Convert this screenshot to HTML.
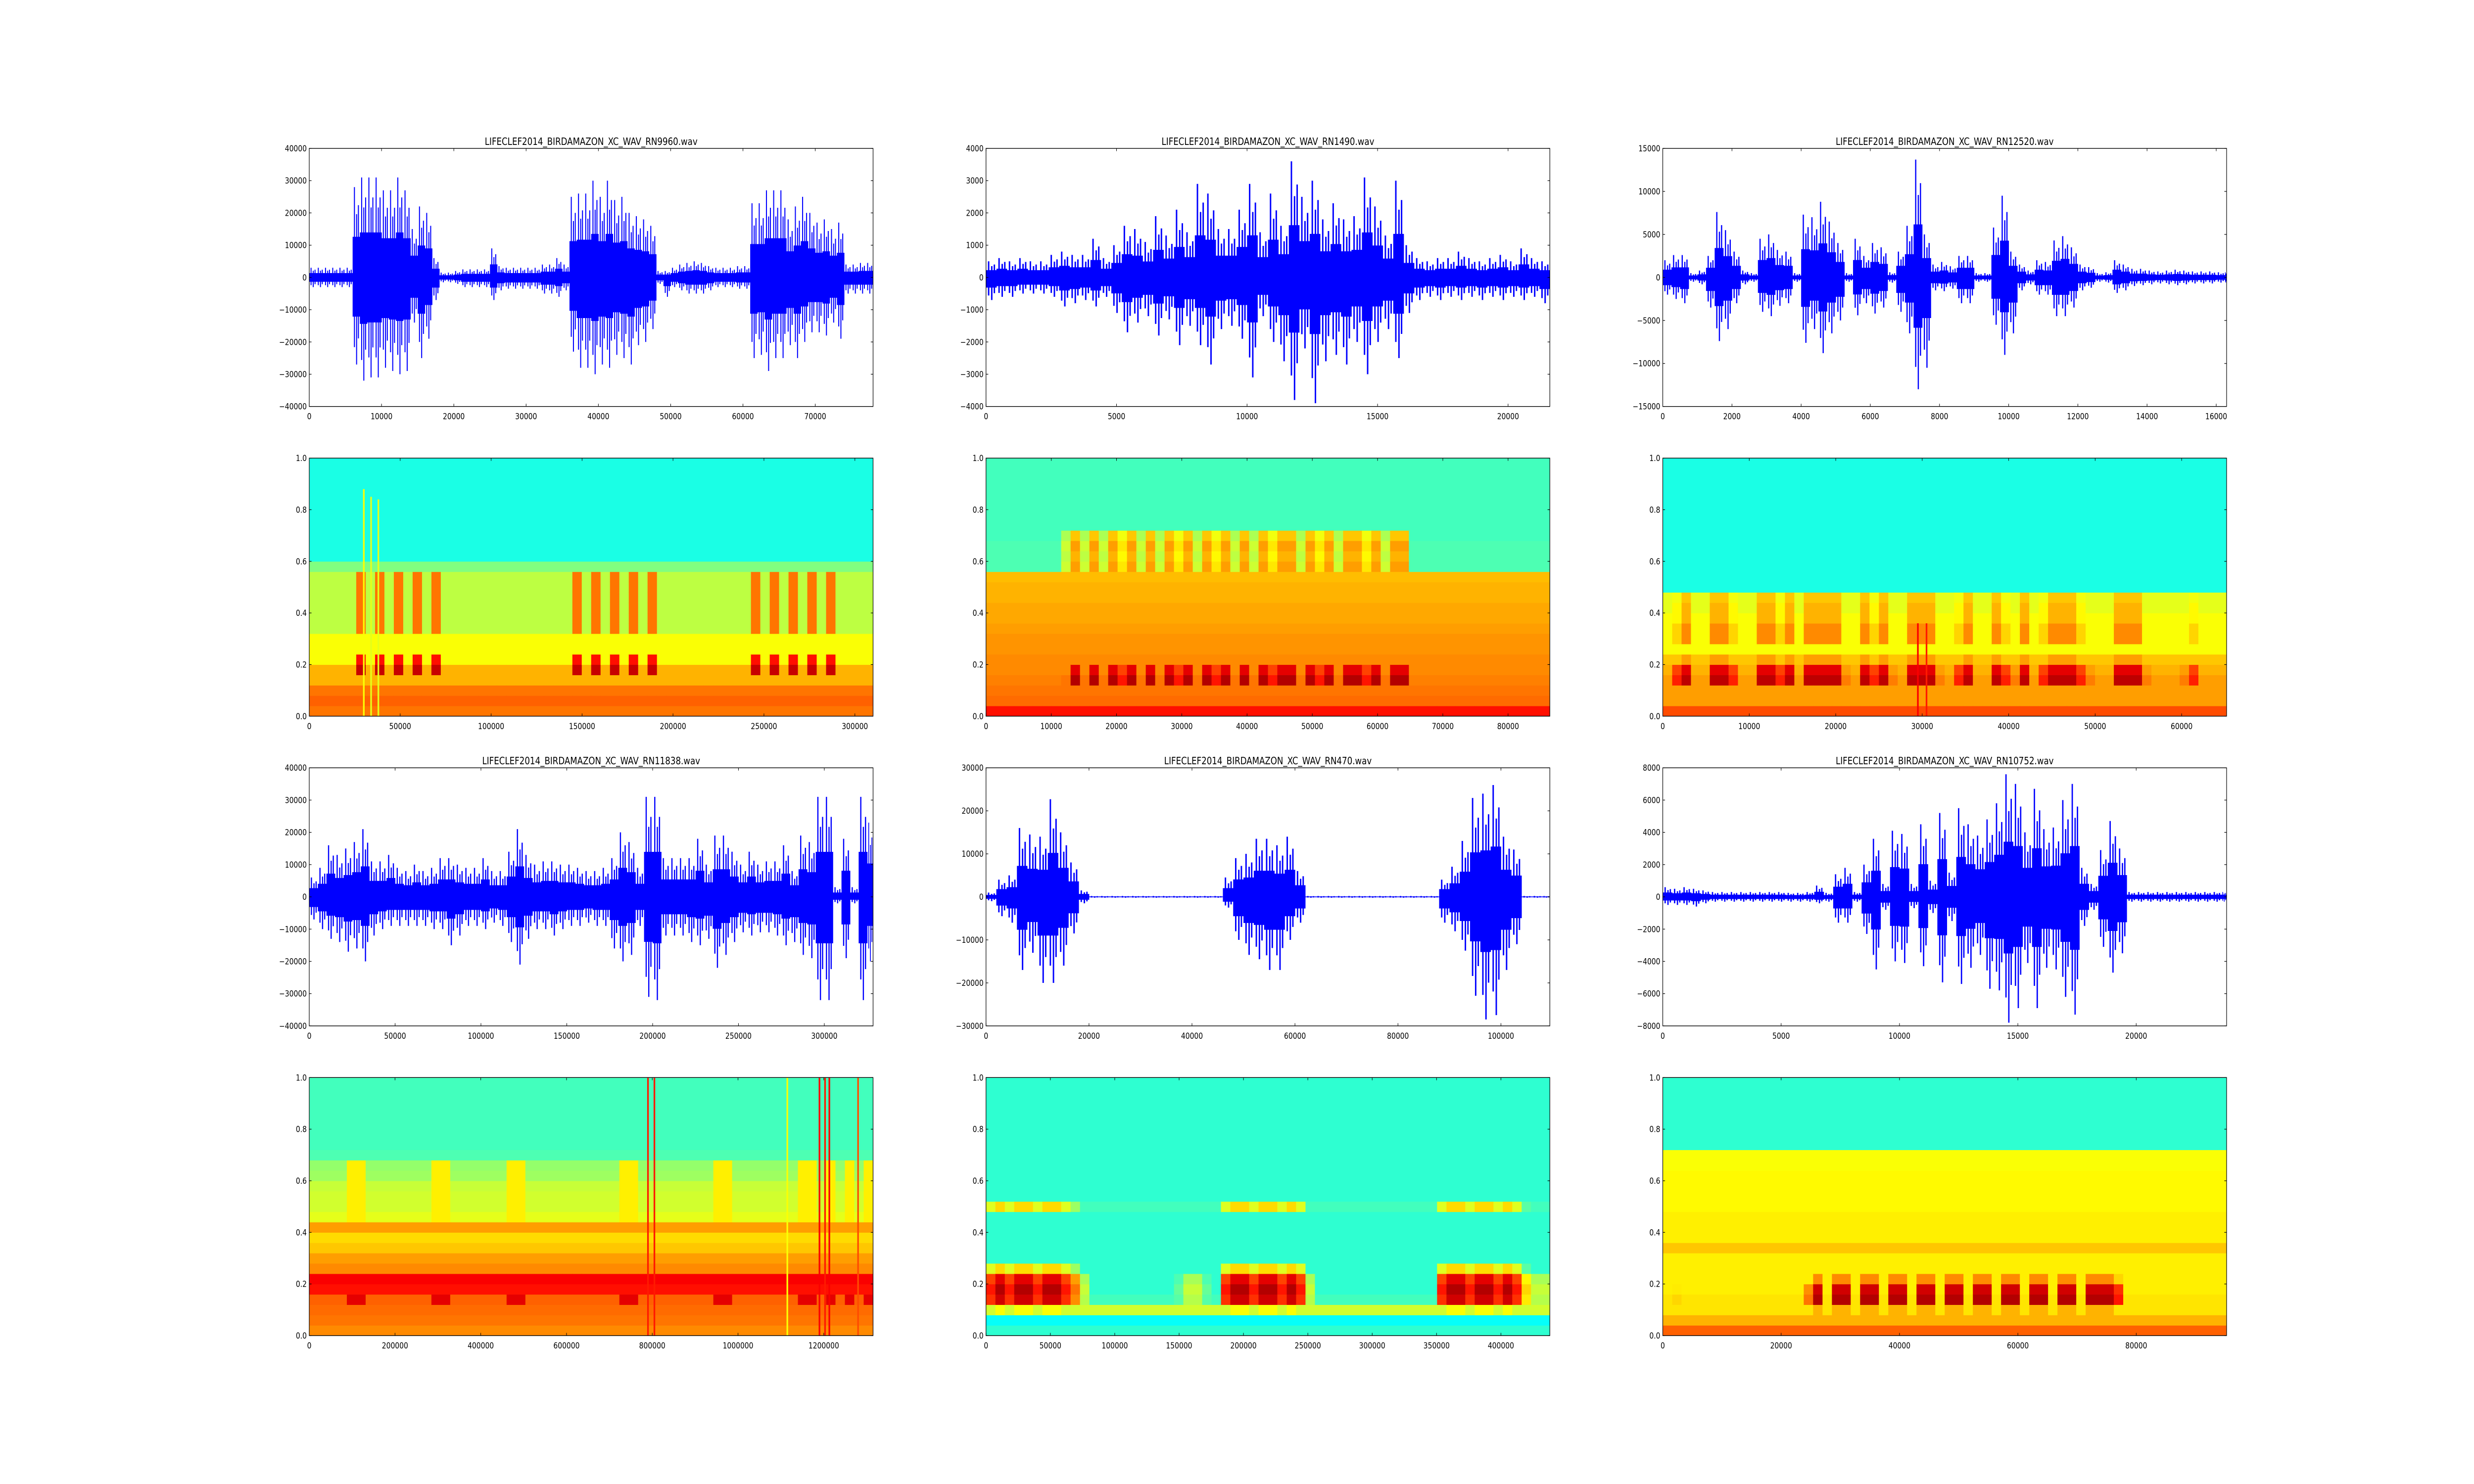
<!DOCTYPE html>
<html><head><meta charset="utf-8">
<style>
html,body{margin:0;padding:0;background:#fff;overflow:hidden;width:100vw;height:100vh;}
svg{display:block;position:absolute;left:0;top:0;width:100vw;height:100vh;}
text{font-family:"DejaVu Sans","Liberation Sans",sans-serif;font-size:16.7px;fill:#000;}
text.ttl{font-size:20px;}
</style></head>
<body>
<svg id="fig" xmlns="http://www.w3.org/2000/svg" viewBox="0 0 6000 3000" preserveAspectRatio="none">
<rect x="0" y="0" width="6000" height="3000" fill="#fff"/>
</svg>
<script>
// ---------- DATA ----------
const titles = ["LIFECLEF2014_BIRDAMAZON_XC_WAV_RN9960.wav","LIFECLEF2014_BIRDAMAZON_XC_WAV_RN1490.wav","LIFECLEF2014_BIRDAMAZON_XC_WAV_RN12520.wav","LIFECLEF2014_BIRDAMAZON_XC_WAV_RN11838.wav","LIFECLEF2014_BIRDAMAZON_XC_WAV_RN470.wav","LIFECLEF2014_BIRDAMAZON_XC_WAV_RN10752.wav"];
const waveXmax = [78000, 21600, 16300, 328400, 109500, 23820];
const waveYmax = [40000, 4000, 15000, 40000, 30000, 8000];
const waveYstep = [10000, 1000, 5000, 10000, 10000, 2000];
const waveXstep = [10000, 5000, 2000, 50000, 20000, 5000];
const waveBin = [1000, 400, 250, 5000, 2000, 400];

const wave1Pos = [3000,3000,3000,3000,3000,3000,28000,31000,31000,31000,27000,27000,31000,27000,15000,22000,20000,6000,1500,1500,2000,2500,2500,2500,2500,9000,3500,3000,3000,3000,3000,3000,4000,4000,6000,4000,25000,26000,26000,30000,25000,30000,24000,25000,20000,19000,18000,16000,2000,2000,3000,4000,4500,5000,4500,3500,3000,3000,3000,3500,3500,23000,23000,27000,27000,27000,18000,22000,25000,20000,17000,18000,15000,17000,4000,4000,4500,4500];
const wave1Neg = [-3000,-3000,-3000,-3000,-3000,-3000,-27000,-32000,-31000,-31000,-28000,-29000,-30000,-29000,-14000,-25000,-19000,-7000,-1500,-1500,-2000,-3000,-3000,-3000,-3000,-7000,-4000,-3500,-3500,-3500,-3500,-3500,-5000,-5000,-6000,-4000,-23000,-28000,-28000,-30000,-27000,-28000,-24000,-25000,-27000,-21000,-20000,-16000,-2000,-6000,-3000,-4000,-5000,-5000,-5000,-4000,-3000,-3000,-3000,-3500,-3500,-25000,-24000,-29000,-25000,-25000,-21000,-25000,-20000,-17000,-17000,-18000,-14000,-19000,-5000,-5000,-5000,-5000];
const wave2Pos = [500,600,500,600,500,500,700,800,700,700,1200,600,1000,1600,1500,1100,1900,1300,2100,1400,2900,2600,1500,1500,2100,2900,1400,2600,1600,3600,2500,3000,1800,2300,1800,1900,3100,2200,1300,3000,1000,600,500,600,600,800,600,500,600,700,500,900,600,500];
const wave2Neg = [-700,-600,-600,-500,-500,-500,-600,-900,-800,-700,-900,-600,-1100,-1700,-1400,-1200,-1800,-1300,-2100,-1500,-2100,-2700,-1600,-1500,-1900,-3100,-1200,-2000,-2600,-3800,-2200,-3900,-2600,-2400,-2700,-2000,-3000,-2000,-1600,-2500,-1100,-700,-600,-700,-600,-700,-600,-700,-600,-700,-600,-700,-600,-800];
const wave3Pos = [2000,2600,2600,500,800,2500,7600,5500,3000,800,500,4500,5000,3200,3000,500,7300,7000,8800,6500,4000,500,4500,2500,4000,3500,600,3000,6000,13700,5000,1500,1800,1300,2500,2500,500,500,5800,9500,3000,1500,800,2000,1800,4300,4800,3500,1500,1200,500,600,2000,1500,1000,1000,800,700,800,900,800,700,700,700,600,600];
const wave3Neg = [-2000,-2500,-3000,-500,-800,-3500,-7400,-6000,-3000,-800,-500,-4000,-4500,-3300,-3000,-500,-7600,-6000,-8800,-6500,-5000,-500,-4400,-3000,-4200,-3500,-600,-4000,-6500,-13000,-10500,-1500,-1600,-1300,-3000,-3000,-500,-500,-5500,-9000,-6500,-1500,-800,-2000,-2000,-4500,-4500,-3500,-1500,-1200,-500,-600,-1800,-1500,-1000,-900,-800,-700,-800,-900,-800,-700,-700,-700,-600,-600];
const wave4Pos = [6000,9000,16000,13000,15000,17000,21000,11000,11000,13000,9000,8000,10000,8000,9000,12000,12000,10000,9000,9000,12000,8000,8000,14000,21000,13000,10000,11000,11000,10000,10000,9000,8000,8000,9000,12000,20000,17000,9000,31000,31000,12000,12000,12000,12000,18000,10000,19000,19000,14000,10000,14000,10000,11000,11000,16000,8000,19000,17000,31000,31000,3000,18000,3000,31000,23000];
const wave4Neg = [-7000,-10000,-13000,-14000,-17000,-16000,-20000,-12000,-10000,-9000,-9000,-9000,-9000,-9000,-10000,-10000,-15000,-12000,-9000,-9000,-10000,-8000,-9000,-14000,-21000,-13000,-10000,-10000,-12000,-10000,-9000,-9000,-8000,-9000,-9000,-16000,-20000,-18000,-9000,-31000,-32000,-12000,-12000,-12000,-14000,-15000,-13000,-22000,-18000,-14000,-11000,-12000,-11000,-11000,-12000,-15000,-14000,-18000,-19000,-32000,-32000,-2000,-19000,-2000,-32000,-20000];
const wave5Pos = [1000,4000,5000,16000,14500,14000,22700,15000,8000,1500,200,200,200,200,200,200,200,200,200,200,200,200,200,4500,9000,10000,13500,13500,12000,14000,6000,200,200,200,200,200,200,200,200,200,200,200,200,200,4000,7000,13000,23000,24000,26000,14000,11000,200,200,200];
const wave5Neg = [-1000,-4500,-6000,-17000,-13000,-20000,-20000,-16000,-8500,-1500,-200,-200,-200,-200,-200,-200,-200,-200,-200,-200,-200,-200,-200,-2500,-10000,-13500,-14500,-17000,-17000,-10000,-6000,-200,-200,-200,-200,-200,-200,-200,-200,-200,-200,-200,-200,-200,-6000,-8000,-12500,-23000,-28500,-27500,-17000,-11000,-200,-200,-200];
const wave6Pos = [600,500,600,500,400,300,300,300,300,300,300,300,300,250,250,300,700,250,1400,1800,300,2000,3600,800,4100,3900,800,4500,1000,5200,1500,5500,4500,3800,4800,5800,7600,7000,4000,6700,4200,4300,6000,7000,1800,800,2900,4700,3000,300,300,300,300,300,300,300,300,300,300,300];
const wave6Neg = [-500,-500,-500,-600,-400,-300,-300,-300,-300,-300,-300,-300,-300,-300,-300,-300,-400,-300,-1600,-1600,-300,-2300,-4500,-800,-4000,-4100,-700,-4300,-1000,-5300,-1500,-5400,-4400,-3600,-5700,-5800,-7800,-6900,-4100,-6900,-4400,-4500,-6200,-7300,-1800,-800,-3100,-4700,-3500,-300,-300,-300,-300,-300,-300,-300,-300,-300,-300,-300];

const specXmax = [310000, 86400, 65200, 1315000, 438000, 95270];
const specXstep = [50000, 10000, 10000, 200000, 50000, 20000];

const spec1Profile = [0.76,0.78,0.76,0.7,0.7,0.62,0.62,0.62,0.56,0.56,0.56,0.56,0.56,0.56,0.5,0.4,0.4,0.4,0.4,0.4,0.4,0.4,0.4,0.4,0.4];
const spec1Call = [0,0,0,0,0.93,0.86,0,0,0.76,0.76,0.76,0.76,0.76,0.76,0,0,0,0,0,0,0,0,0,0,0];
const spec1Act = [0,0,0,0,0,1,0.6,1,0.6,1,0.6,1,0.7,1,0,0,0,0,0,0.6,0.7,0.6,0,0,0,0,0,0,1,0.6,1,0.6,1,0.6,1,0.6,1,0,0,0,0,0,0,0,0,0,0,1,0.6,1,0.6,1,0.6,1,0.6,1,0.7,0,0,0];
const spec1SpikeX = [30000, 34000, 38000];
const spec1SpikeTop = [0.88, 0.85, 0.84];
const spec1SpikeVal = [0.62, 0.6, 0.6];

const spec2Profile = [0.86,0.77,0.76,0.75,0.74,0.74,0.73,0.73,0.72,0.71,0.71,0.7,0.7,0.69,0.45,0.45,0.45,0.44,0.44,0.44,0.44,0.44,0.44,0.44,0.44];
const spec2Call = [0,0,0,0.95,0.9,0,0,0,0,0,0,0,0,0,0.72,0.7,0.72,0.68,0,0,0,0,0,0,0];
const spec2Act = [0,0,0,0.5,0,0.6,0.5,0,0.8,1,0.8,1,0.8,1,0.9,1,0.8,1,0.8,1,0.9,1,0.8,1,0.9,1,0.8,1,0.8,1,0.9,1,1,0.8,1,0.9,1,0.8,1,1,0.9,1,0.8,1,1,0.6,0.5,0.6,0.5,0.6,0.5,0.6,0.5,0.6,0.5,0.6,0.5,0.6,0.5,0];
const spec2SpikeX = [];
const spec2SpikeTop = [];
const spec2SpikeVal = [];

const spec3Profile = [0.8,0.72,0.72,0.72,0.7,0.68,0.62,0.62,0.62,0.62,0.6,0.6,0.4,0.4,0.4,0.4,0.4,0.4,0.4,0.4,0.4,0.4,0.4,0.4,0.4];
const spec3Call = [0,0,0.7,0.94,0.9,0.72,0,0.74,0.74,0.7,0.7,0.68,0,0,0,0,0,0,0,0,0,0,0,0,0];
const spec3Act = [0,0.9,1,0.7,0.5,1,1,0.9,0.6,0.5,1,1,0.9,1,0.5,1,1,1,1,0.8,0.5,1,0.9,1,0.8,0.5,1,1,1,0.8,0.6,0.9,1,0.7,0.4,1,0.9,0.8,1,0.6,0.9,1,1,1,0.9,0.8,0.5,0.4,1,1,1,0.8,0.7,0.4,0.4,0.8,0.9,0.7,0.4,0.4];
const spec3SpikeX = [29500, 30500];
const spec3SpikeTop = [0.36, 0.36];
const spec3SpikeVal = [0.88, 0.85];

const spec4Profile = [0.74,0.76,0.77,0.78,0.86,0.88,0.74,0.72,0.68,0.66,0.72,0.6,0.58,0.58,0.57,0.53,0.52,0.45,0.44,0.44,0.44,0.44,0.44,0.44,0.44];
const spec4Call = [0,0,0,0.9,0,0,0,0,0,0,0,0.64,0.64,0.64,0.64,0.64,0.64,0,0,0,0,0,0,0,0];
const spec4Act = [0,0,0,0,1,1,0,0,0,0,0,0,0,1,1,0,0,0,0,0,0,1,1,0,0,0,0,0,0,0,0,0,0,1,1,0,0,0,0,0,0,0,0,1,1,0,0,0,0,0,0,0,1,1,0,1,0.8,1,0.8,1];
const spec4SpikeX = [790000, 805000, 1115000, 1190000, 1203000, 1213000, 1280000];
const spec4SpikeTop = [1, 1, 1, 1, 1, 1, 1];
const spec4SpikeVal = [0.85, 0.85, 0.62, 0.88, 0.85, 0.88, 0.8];

const spec5Profile = [0.42,0.38,0.58,0.44,0.42,0.42,0.42,0.42,0.42,0.42,0.42,0.42,0.44,0.42,0.42,0.42,0.42,0.42,0.42,0.42,0.42,0.42,0.42,0.42,0.42];
const spec5Call = [0,0,0.62,0.92,0.95,0.9,0.66,0,0,0,0,0,0.66,0,0,0,0,0,0,0,0,0,0,0,0];
const spec5Act = [0.9,1,0.9,1,1,0.9,1,1,0.9,0.8,0.6,0.3,0.2,0,0,0,0,0,0,0,0.5,0.6,0.6,0.5,0.4,0.9,1,1,0.9,1,1,0.9,1,0.9,0.6,0.2,0.1,0,0,0,0,0,0,0,0,0,0,0.3,0.9,1,1,0.9,1,1,0.9,1,0.9,0.7,0.6,0.6];
const spec5SpikeX = [];
const spec5SpikeTop = [];
const spec5SpikeVal = [];

const spec6Profile = [0.78,0.7,0.65,0.65,0.64,0.64,0.64,0.64,0.68,0.64,0.64,0.64,0.63,0.63,0.63,0.63,0.62,0.62,0.42,0.42,0.42,0.42,0.42,0.42,0.42];
const spec6Call = [0,0,0.7,0.95,0.92,0.74,0,0,0,0,0,0,0,0,0,0,0,0,0,0,0,0,0,0,0];
const spec6Act = [0.6,0.7,0.6,0,0,0,0,0,0,0,0,0,0,0,0,0.8,1,0.5,1,1,0.6,1,1,0.6,1,1,0.6,1,1,0.6,1,1,0.6,1,1,0.6,1,1,0.6,1,1,0.6,1,1,0.6,1,1,1,0.9,0.5,0,0,0,0,0,0,0,0,0,0];
const spec6SpikeX = [];
const spec6SpikeTop = [];
const spec6SpikeVal = [];

// ---------- LAYOUT ----------
const NS = "http://www.w3.org/2000/svg";
const svg = document.getElementById("fig");
const colLeft = [750, 2391.3, 4032.6];
const rowTop = [300, 926.1, 1552.2, 2178.3];
const AW = 1367.4, AH = 521.7;

function mk(tag, attrs, parent) {
  const e = document.createElementNS(NS, tag);
  for (const k in attrs) e.setAttribute(k, attrs[k]);
  parent.appendChild(e);
  return e;
}
function jet(v) {
  const c = t => Math.max(0, Math.min(1, t));
  const r = c(1.5 - Math.abs(4 * v - 3)), g = c(1.5 - Math.abs(4 * v - 2)), b = c(1.5 - Math.abs(4 * v - 1));
  return "rgb(" + Math.round(r * 255) + "," + Math.round(g * 255) + "," + Math.round(b * 255) + ")";
}
function fmt(v) { return v < 0 ? "\u2212" + Math.abs(v) : String(v); }

function axesFrame(g, L, T, xmax, xstep, ymin, ymax, ystep, yfmt) {
  const xs = v => L + v / xmax * AW;
  const ys = v => T + (ymax - v) / (ymax - ymin) * AH;
  const frame = mk("rect", {x: L, y: T, width: AW, height: AH, fill: "none", stroke: "#000", "stroke-width": 1.4}, g);
  
  
  for (let v = 0; v <= xmax + 1e-9; v += xstep) {
    const x = xs(v);
    const t1 = mk("line", {x1: x, x2: x, y1: T + AH, y2: T + AH - 5.5, stroke: "#000", "stroke-width": 1.2}, g);
    
    
    const t2 = mk("line", {x1: x, x2: x, y1: T, y2: T + 5.5, stroke: "#000", "stroke-width": 1.2}, g);
    
    
    const lb = mk("text", {x: x, y: T + AH + 26, "text-anchor": "middle"}, g);
    lb.textContent = fmt(v);
    
    
  }
  const n = Math.round((ymax - ymin) / ystep);
  for (let i = 0; i <= n; i++) {
    const v = ymin + i * ystep;
    const y = ys(v);
    const t1 = mk("line", {x1: L, x2: L + 5.5, y1: y, y2: y, stroke: "#000", "stroke-width": 1.2}, g);
    
    
    const t2 = mk("line", {x1: L + AW, x2: L + AW - 5.5, y1: y, y2: y, stroke: "#000", "stroke-width": 1.2}, g);
    
    
    const lb = mk("text", {x: L - 6, y: y + 6, "text-anchor": "end"}, g);
    lb.textContent = yfmt(v);
    
    
  }
}

function drawWave(idx, pos, neg, L, T) {
  const g = mk("g", {}, svg);
  
  
  const xmax = waveXmax[idx], ymax = waveYmax[idx], ymin = -ymax, bin = waveBin[idx];
  const xs = v => L + Math.min(v, xmax) / xmax * AW;
  const ys = v => T + (ymax - v) / (ymax - ymin) * AH;
  const clipId = "clipw" + idx;
  const cp = mk("clipPath", {id: clipId}, g);
  mk("rect", {x: L, y: T, width: AW, height: AH}, cp);
  const dg = mk("g", {"clip-path": "url(#" + clipId + ")"}, g);
  
  
  for (let i = 0; i < pos.length; i++) {
    const x0 = xs(i * bin), x1 = xs((i + 1) * bin);
    if (x1 <= x0) continue;
    const body = mk("rect", {x: x0, y: ys(pos[i] * 0.45), width: x1 - x0 + 0.6, height: ys(neg[i] * 0.45) - ys(pos[i] * 0.45), fill: "#0000ff"}, dg);
    
    
    const bw = x1 - x0;
    const sw = Math.max(1.5, bw * 0.14);
    const px = [x0 + bw * 0.25, x0 + bw * 0.55, x0 + bw * 0.8];
    const sp = mk("line", {x1: px[0], x2: px[0], y1: ys(pos[i]), y2: ys(neg[i] * 0.8), stroke: "#0000ff", "stroke-width": sw}, dg);
    
    
    const sp2 = mk("line", {x1: px[1], x2: px[1], y1: ys(pos[i] * 0.7), y2: ys(neg[i]), stroke: "#0000ff", "stroke-width": sw}, dg);
    
    
    const sp3 = mk("line", {x1: px[2], x2: px[2], y1: ys(pos[i] * 0.8), y2: ys(neg[i] * 0.7), stroke: "#0000ff", "stroke-width": sw}, dg);
    
    
  }
  axesFrame(g, L, T, xmax, waveXstep[idx], ymin, ymax, waveYstep[idx], v => fmt(v));
  const tt = mk("text", {x: L + AW / 2, y: T - 7, "text-anchor": "middle", "class": "ttl"}, g);
  tt.textContent = titles[idx];
  
  
}

function drawSpec(idx, profile, call, act, spX, spTop, spVal, L, T) {
  const g = mk("g", {}, svg);
  
  
  const xmax = specXmax[idx];
  const nr = profile.length, nc = act.length;
  const xs = v => L + v / xmax * AW;
  const ys = v => T + (1 - v) * AH;
  const clipId = "clips" + idx;
  const cp = mk("clipPath", {id: clipId}, g);
  mk("rect", {x: L, y: T, width: AW, height: AH}, cp);
  const dg = mk("g", {"clip-path": "url(#" + clipId + ")"}, g);
  
  
  for (let c = 0; c < nc; c++) {
    const x0 = xs(c * xmax / nc), x1 = xs((c + 1) * xmax / nc);
    for (let r = 0; r < nr; r++) {
      const v = Math.max(profile[r], act[c] * call[r]);
      const y1 = ys(r / nr), y0 = ys((r + 1) / nr);
      const cell = mk("rect", {x: x0, y: y0, width: x1 - x0 + 0.6, height: y1 - y0 + 0.6, fill: jet(v)}, dg);
      
      
    }
  }
  for (let i = 0; i < spX.length; i++) {
    const s = mk("rect", {x: xs(spX[i]) - 2, y: ys(spTop[i]), width: 4, height: ys(0) - ys(spTop[i]), fill: jet(spVal[i])}, dg);
    
    
  }
  axesFrame(g, L, T, xmax, specXstep[idx], 0, 1, 0.2, v => (Math.round(v * 10) / 10).toFixed(1));
}

const wavePos = [wave1Pos, wave2Pos, wave3Pos, wave4Pos, wave5Pos, wave6Pos];
const waveNeg = [wave1Neg, wave2Neg, wave3Neg, wave4Neg, wave5Neg, wave6Neg];
const specP = [spec1Profile, spec2Profile, spec3Profile, spec4Profile, spec5Profile, spec6Profile];
const specC = [spec1Call, spec2Call, spec3Call, spec4Call, spec5Call, spec6Call];
const specA = [spec1Act, spec2Act, spec3Act, spec4Act, spec5Act, spec6Act];
const specSX = [spec1SpikeX, spec2SpikeX, spec3SpikeX, spec4SpikeX, spec5SpikeX, spec6SpikeX];
const specST = [spec1SpikeTop, spec2SpikeTop, spec3SpikeTop, spec4SpikeTop, spec5SpikeTop, spec6SpikeTop];
const specSV = [spec1SpikeVal, spec2SpikeVal, spec3SpikeVal, spec4SpikeVal, spec5SpikeVal, spec6SpikeVal];

for (let i = 0; i < 6; i++) {
  const col = i % 3, blk = Math.floor(i / 3);
  drawWave(i, wavePos[i], waveNeg[i], colLeft[col], rowTop[blk * 2]);
  drawSpec(i, specP[i], specC[i], specA[i], specSX[i], specST[i], specSV[i], colLeft[col], rowTop[blk * 2 + 1]);
}
</script>
</body></html>
